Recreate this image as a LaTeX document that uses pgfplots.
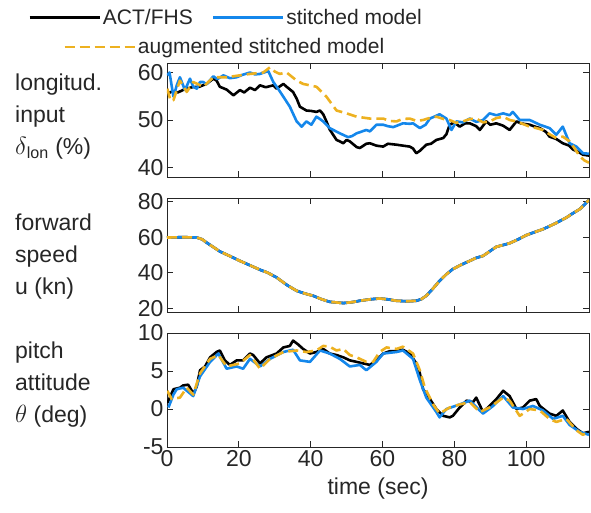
\documentclass[border=0pt]{standalone}
\usepackage{fontspec}
\setmainfont{Liberation Sans}
\usepackage{pgfplots}
\pgfplotsset{compat=1.18}
\definecolor{cblue}{RGB}{20,135,235}
\definecolor{corange}{RGB}{237,177,32}
\definecolor{axgray}{RGB}{38,38,38}
\newcommand{\bigf}{\fontsize{23}{28}\selectfont}
\newcommand{\legf}{\fontsize{21}{26}\selectfont}
\newcommand{\lblf}{\fontsize{23}{32}\selectfont}
\pgfplotsset{
 panel/.style={scale only axis, width=422pt, height=114pt, xmin=0, xmax=117.5,
   xtick={0,20,40,60,80,100}, tick align=inside, major tick length=6pt,
   axis line style={draw=axgray, line width=0.8pt},
   tick style={draw=axgray, line width=0.8pt},
   ticklabel style={font=\bigf, text=axgray},
   label style={font=\bigf, text=axgray},
   /pgf/number format/assume math mode=true,
   legend image code/.code={\draw[##1] (0pt,0pt) -- (70pt,0pt);},
 },
 act/.style={black, line width=2.6pt, line join=round},
 stm/.style={cblue, line width=2.6pt, line join=round},
 aug/.style={corange, line width=2.6pt, line join=round, dash pattern=on 10pt off 5pt},
}
\pgfplotstableread{
t y
0.1 55.6
1.5 56.0
3.0 55.8
5.0 56.5
7.0 56.9
9.0 57.0
11.0 57.6
12.9 58.7
13.8 58.3
14.7 57.0
16.6 56.4
18.5 55.2
20.3 56.3
21.5 55.8
23.1 56.8
24.5 56.3
25.9 57.3
27.5 56.9
29.6 57.3
30.5 56.6
32.4 57.6
33.3 57.0
35.1 55.9
36.1 54.5
37.0 52.8
38.8 52.0
40.2 51.9
41.6 51.7
42.6 52.0
43.5 51.2
44.4 49.7
45.3 48.0
47.2 45.8
48.1 45.5
49.1 45.1
50.0 45.8
50.9 45.5
52.8 44.3
53.7 44.1
55.5 45.0
56.5 45.1
58.3 44.6
60.2 44.4
61.5 45.0
63.9 44.8
65.7 44.6
67.6 44.4
68.5 44.0
69.4 43.0
70.4 43.5
72.2 44.8
73.5 45.0
75.0 45.8
76.9 46.2
77.8 47.0
78.7 49.0
80.0 49.5
81.5 48.6
83.0 49.3
84.3 49.3
86.1 48.7
87.1 47.9
88.9 49.7
90.0 49.0
91.7 49.3
93.6 48.8
95.4 47.9
97.3 49.7
98.5 49.3
101.0 49.0
102.5 48.6
103.8 48.3
105.5 47.5
106.5 46.5
108.4 46.0
110.2 45.1
112.0 44.6
113.0 43.8
114.5 43.3
115.8 42.7
117.5 42.5
}\lonact
\pgfplotstableread{
t y
0.1 59.4
0.7 60.0
1.8 54.9
2.8 57.5
3.6 59.0
5.0 56.3
6.4 58.7
7.3 57.0
8.3 56.6
9.2 58.0
10.1 58.0
11.0 57.5
12.9 59.2
14.0 58.6
15.7 59.4
17.5 58.8
19.4 59.0
21.0 59.5
23.1 60.0
24.5 59.6
25.9 59.7
27.0 60.0
28.2 60.3
29.6 58.0
31.0 56.5
32.4 54.9
34.2 52.8
36.1 49.7
37.5 48.6
38.8 49.7
40.2 49.0
41.6 50.7
42.6 50.2
43.5 49.7
45.3 48.3
48.1 47.2
50.4 46.4
51.5 46.6
52.8 47.2
55.5 47.9
56.5 47.6
58.3 49.0
60.2 49.0
61.5 48.7
63.0 48.5
65.7 49.3
67.6 49.2
68.5 49.3
70.4 48.3
72.0 49.0
73.2 50.3
75.9 51.2
77.8 50.3
79.2 47.9
80.6 49.7
82.4 49.5
84.3 50.3
86.1 49.6
88.0 50.0
89.8 51.4
91.7 51.0
93.6 51.4
95.4 51.0
96.3 51.7
98.2 50.0
101.0 50.0
103.8 49.0
106.5 48.3
108.4 46.9
110.2 48.6
112.1 45.1
114.0 44.4
115.8 43.0
117.5 42.9
}\lonstm
\pgfplotstableread{
t y
0.1 56.6
1.0 54.0
1.8 54.2
3.6 58.3
5.5 55.9
7.3 58.0
10.1 57.0
12.9 59.0
16.6 59.0
20.3 59.4
23.1 59.7
26.8 60.0
28.7 61.1
30.0 60.2
31.4 59.7
33.3 60.0
36.1 58.3
37.9 57.6
41.6 57.0
44.4 54.9
47.2 52.0
50.0 51.4
52.8 50.7
56.5 50.3
60.2 50.3
62.0 49.8
63.9 49.7
65.5 50.2
67.6 50.3
69.5 49.8
71.3 50.0
73.0 50.4
75.0 50.7
77.0 50.2
78.7 50.0
80.5 49.4
82.4 49.7
84.3 50.2
86.1 50.3
88.0 49.5
89.8 49.7
91.7 50.4
93.6 50.7
95.4 50.0
97.3 49.7
99.0 49.2
101.0 48.6
102.8 48.3
104.7 47.9
106.5 47.0
108.4 46.2
110.2 46.5
112.1 45.5
113.5 44.0
114.9 42.4
116.2 41.5
117.5 41.0
}\lonaug
\pgfplotstableread{
t y
0.0 59.8
4.5 60.0
8.3 59.8
9.8 58.8
11.0 57.0
14.7 52.0
17.5 49.4
20.3 46.7
23.0 44.3
25.9 41.7
28.0 40.1
30.5 37.4
33.5 33.0
36.1 29.9
38.5 28.3
40.7 27.1
43.0 25.2
45.3 23.7
49.1 23.0
51.5 23.5
53.7 24.3
56.5 25.1
59.2 25.6
61.5 25.1
63.9 24.3
67.0 24.0
69.4 24.3
70.8 25.2
72.2 27.1
74.0 31.0
75.9 35.5
77.8 39.2
79.6 42.1
82.0 44.6
84.3 46.7
86.0 48.3
88.0 49.5
89.8 52.0
91.7 54.6
93.6 55.6
95.4 56.6
97.8 58.8
100.0 61.1
102.3 62.8
104.7 64.5
108.0 67.6
111.2 71.0
113.0 73.4
114.9 75.7
116.2 78.2
117.5 80.9
}\speed
\pgfplotstableread{
t y
0.1 0.8
0.4 1.1
1.8 2.6
3.6 2.8
4.5 3.1
5.9 3.2
6.9 2.4
7.3 1.9
8.3 3.0
9.2 5.1
10.6 5.6
12.0 6.8
13.8 7.5
14.7 7.7
16.1 6.4
17.5 5.8
19.4 6.4
21.2 6.4
23.1 7.3
24.0 7.1
25.9 6.0
27.7 6.8
30.5 7.3
32.4 8.1
34.2 8.3
35.1 9.0
36.5 8.5
37.9 7.9
39.8 7.3
41.6 7.5
43.5 7.9
45.3 7.3
47.2 7.1
49.1 6.8
50.9 6.4
52.8 6.2
54.6 6.0
56.5 5.8
58.3 6.4
60.2 7.3
62.0 7.6
63.9 7.6
65.7 7.8
67.6 7.3
69.4 6.0
70.4 4.7
71.3 2.6
73.2 1.3
75.0 0.0
76.9 -0.9
78.7 -1.1
79.6 -0.9
81.5 0.2
83.4 1.1
85.2 0.9
86.1 1.5
88.0 -0.4
89.8 0.4
91.7 1.3
93.6 2.4
95.4 1.7
97.3 0.0
99.1 0.2
101.0 1.1
102.8 1.3
103.8 0.4
106.5 -0.6
108.4 -0.9
110.2 -0.2
112.1 -1.7
114.0 -2.6
115.8 -3.2
117.5 -3.0
}\pitact
\pgfplotstableread{
t y
0.4 0.2
1.8 1.9
2.7 2.6
4.5 2.8
7.3 1.7
9.2 4.3
12.0 6.2
14.3 7.3
16.6 5.3
19.4 5.6
21.2 5.3
23.1 6.6
25.9 5.6
28.7 6.6
32.4 7.5
35.1 7.8
37.0 6.4
39.8 6.2
42.6 7.7
45.3 7.3
48.1 6.6
50.9 5.6
53.7 5.8
55.5 5.1
58.3 6.2
60.2 7.3
63.9 7.5
65.7 7.7
68.5 6.6
70.4 3.8
72.2 1.5
75.0 -0.4
75.9 -1.1
77.8 0.0
81.5 0.6
84.3 1.1
87.1 -0.2
88.0 -0.6
90.8 0.4
93.6 1.7
96.3 0.2
99.1 0.0
101.9 0.4
104.7 -0.2
107.5 -1.3
110.2 -0.9
112.1 -2.1
114.9 -3.0
117.5 -3.4
}\pitstm
\pgfplotstableread{
t y
0.1 2.4
1.3 1.3
3.6 1.5
5.5 2.8
7.3 1.9
9.2 4.7
12.0 6.6
14.3 7.1
16.6 5.6
20.3 6.0
23.1 7.1
25.9 5.3
28.7 6.6
32.4 7.5
36.1 7.7
38.8 7.5
41.6 7.7
43.5 8.3
45.3 8.2
47.2 7.7
49.1 7.9
50.9 7.1
52.8 6.8
55.5 6.2
57.4 6.2
59.2 7.5
61.1 8.1
63.9 7.9
65.7 8.2
68.5 7.3
70.4 5.1
71.8 2.8
74.1 0.6
75.9 -0.6
78.7 0.2
81.5 0.6
84.3 0.9
87.1 -0.4
89.8 0.2
93.6 1.5
95.4 1.1
98.2 -0.9
101.0 0.0
103.8 -0.2
106.5 -1.3
108.4 -1.7
111.2 -1.3
114.0 -2.8
115.8 -3.4
117.5 -3.0
}\pitaug
\begin{document}
\begin{tikzpicture}
\path[use as bounding box] (-167pt,63pt) rectangle (424pt,-450pt);
\begin{axis}[panel, name=p1, at={(0pt,0pt)}, anchor=north west,
  ymin=38, ymax=62, ytick={40,50,60}, xticklabels={},
  legend columns=2,
  legend style={at={(-0.329,1.40)}, anchor=west, draw=none, fill=none,
    font=\legf, text=axgray, inner sep=0pt},
  legend cell align=left,
  /tikz/every even column/.append style={column sep=17pt}]
\addplot[act] table[x=t,y=y] {\lonact};
\addlegendentry{ACT/FHS}
\addplot[stm] table[x=t,y=y] {\lonstm};
\addlegendentry{stitched model}
\addplot[aug] table[x=t,y=y] {\lonaug};
\end{axis}
\begin{axis}[panel, name=p2, at={(0pt,-135pt)}, anchor=north west,
  ymin=18, ymax=82, ytick={20,40,60,80}, xticklabels={},
  legend style={at={(-0.246,2.325)}, anchor=west, draw=none, fill=none,
    font=\legf, text=axgray, inner sep=0pt},
  legend cell align=left]
\addplot[act, forget plot] table[x=t,y=y] {\speed};
\addplot[stm, forget plot] table[x=t,y=y] {\speed};
\addplot[aug] table[x=t,y=y] {\speed};
\addlegendentry{augmented stitched model}
\end{axis}
\begin{axis}[panel, name=p3, at={(0pt,-270pt)}, anchor=north west,
  ymin=-5, ymax=10, ytick={-5,0,5,10}, xlabel={time (sec)},
  xlabel style={yshift=-4pt}]
\addplot[act] table[x=t,y=y] {\pitact};
\addplot[stm] table[x=t,y=y] {\pitstm};
\addplot[aug] table[x=t,y=y] {\pitaug};
\end{axis}
\node[anchor=west, align=left, font=\lblf, text=axgray, inner sep=0pt] at (-152pt,-54pt)
  {longitud.\\input\\$\delta$\textsubscript{lon} (\%)};
\node[anchor=west, align=left, font=\lblf, text=axgray, inner sep=0pt] at (-152pt,-194pt)
  {forward\\speed\\u (kn)};
\node[anchor=west, align=left, font=\lblf, text=axgray, inner sep=0pt] at (-152pt,-322pt)
  {pitch\\attitude\\$\theta$ (deg)};
\end{tikzpicture}
\end{document}
